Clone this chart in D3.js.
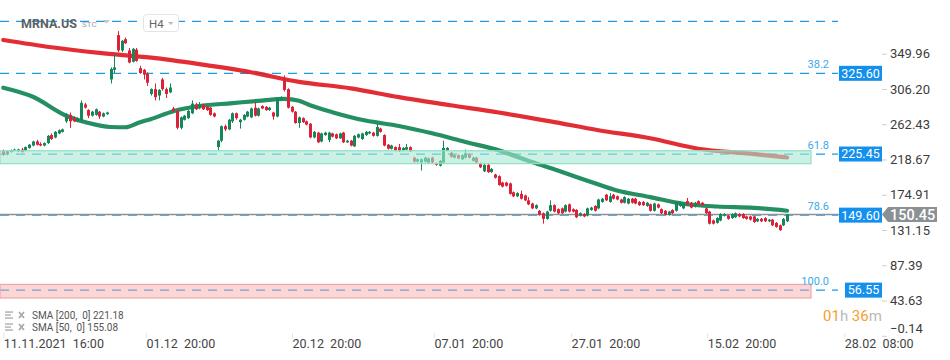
<!DOCTYPE html>
<html><head><meta charset="utf-8">
<script src="https://cdn.jsdelivr.net/npm/d3@7"></script>
<style>
body{margin:0;background:#fff;}
svg{display:block;font-family:Roboto,"Liberation Sans",Arial,sans-serif;}
</style>
</head><body>
<svg id="chart" width="950" height="360"></svg>
<script>
// ---------- DATA ----------
const symbol = "MRNA.US";
const timeframe = "H4";
// candles: [open, high, low, close]
const candles = [
[229,231,223,225],[226,230,224,229],[228,231,227,230],[230,232,229,231],[229,232,228,231],
[231,233,227,228],[230,235,229,234],[233,238,232,237],[236,242,235,241],[241,243,236,237],
[238,240,235,236],[236,240,235,239],[239,249,238,248],[249,251,243,244],[246,254,245,253],
[251,256,250,255],[253,257,252,256],[266,276,264,275],[274,277,258,266],[270,272,265,266],
[266,271,265,270],[268,292,266,289],[287,289,282,283],[280,281,270,273],[273,279,272,278],
[274,282,273,281],[278,279,269,272],[272,277,271,276],[275,278,274,277],[318,333,313,331],
[330,350,326,333],[373,378,352,354],[354,367,352,366],[368,370,362,363],[354,357,338,339],
[340,357,339,356],[355,357,340,341],[332,335,325,326],[330,331,318,324],[325,327,310,314],
[300,307,298,306],[306,313,292,296],[298,306,292,305],[318,320,304,306],[306,308,295,300],
[302,313,301,308],[282,284,278,279],[279,281,256,258],[258,272,256,271],[268,274,267,273],
[270,280,269,279],[276,292,275,288],[287,289,280,281],[282,290,281,287],[287,288,280,281],
[284,285,279,280],[283,284,273,274],[276,277,271,272],[234,243,230,242],[242,261,240,260],
[260,262,254,256],[256,269,255,268],[266,277,264,276],[276,277,268,270],[265,269,257,268],
[268,275,267,274],[272,279,271,278],[271,283,270,282],[283,290,272,273],[273,283,272,282],
[285,286,281,282],[284,285,279,280],[280,284,279,283],[277,278,268,272],[272,295,271,294],
[293,297,292,296],[320,323,303,305],[306,307,282,283],[284,285,277,278],[278,279,263,264],
[264,272,258,271],[270,271,264,265],[266,267,261,262],[263,264,245,246],[246,254,245,253],
[252,253,239,240],[241,252,240,251],[249,253,248,252],[243,253,240,252],[251,252,246,247],
[250,251,244,245],[245,252,244,251],[252,253,239,240],[240,243,239,242],[242,243,235,236],
[235,249,234,248],[246,251,245,250],[244,252,243,251],[249,254,248,253],[251,254,250,253],
[252,253,247,248],[248,263,247,259],[257,258,252,253],[249,250,235,236],[237,238,231,232],
[232,237,231,236],[234,235,229,230],[234,238,228,229],[230,234,229,233],[231,238,230,234],
[234,235,228,229],[221,222,215,216],[216,220,215,219],[215,220,205,219],[216,222,215,221],
[215,221,214,220],[221,222,214,215],[214,215,211,212],[211,218,210,217],[215,242,213,233],
[230,234,229,233],[227,228,221,222],[221,225,220,224],[224,225,219,220],[219,225,218,224],
[221,231,220,226],[225,226,220,221],[217,222,216,221],[221,222,214,215],[214,215,208,209],
[204,213,203,212],[212,213,202,203],[203,208,202,207],[200,201,195,196],[198,199,186,187],
[190,191,184,185],[190,191,185,186],[189,190,175,176],[178,179,172,173],[173,178,172,177],
[176,180,169,170],[174,175,167,168],[168,172,162,163],[164,165,157,158],[158,163,157,162],
[155,156,149,150],[152,153,139,145],[145,155,144,154],[155,168,154,162],[162,163,153,154],
[157,158,151,152],[158,159,151,152],[154,163,153,162],[163,164,153,154],[157,158,153,154],
[156,157,146,147],[149,153,148,152],[151,152,147,148],[149,159,148,158],[156,160,155,159],
[161,162,154,155],[158,170,157,169],[166,171,165,170],[175,176,167,168],[166,177,165,173],
[175,176,169,170],[173,174,168,169],[169,170,164,165],[165,173,164,172],[164,171,163,170],
[170,171,164,165],[170,171,163,164],[166,167,161,162],[166,167,161,162],[161,166,160,165],
[163,164,154,155],[155,165,154,164],[163,164,158,159],[157,158,151,152],[155,156,149,150],
[150,155,149,154],[156,157,151,152],[155,167,154,166],[161,166,160,165],[158,165,157,164],
[167,171,162,163],[165,166,158,159],[160,166,159,165],[167,168,162,163],[165,166,161,162],
[158,159,151,152],[154,155,138,139],[143,144,138,139],[140,147,139,146],[143,152,142,151],
[149,152,148,151],[149,150,144,145],[146,152,145,151],[147,153,146,152],[151,152,147,148],
[151,152,145,146],[148,149,144,145],[148,149,143,144],[148,149,140,141],[142,146,141,145],
[145,146,141,142],[146,147,141,142],[142,145,141,144],[144,145,136,137],[140,141,134,135],
[137,138,130,131],[137,146,136,145],[142,151,141,150.45]
];
// SMA readings (candle index, value)
const sma200Idx = [0,13,26,40,53,67,80,94,107,121,134,148,161,175,188,202,212];
const sma200Val = [367,358,351,345,337,327,315,307,296,286,277,266,255,245,232,226,221.18];
const sma50Idx = [0,8,17,23,29,33,37,40,46,53,62,69,76,80,83,89,98,107,116,125,134,143,150,159,166,175,184,193,203,212];
const sma50Val = [307.7,296.5,273,264,259,258.7,265,269,278.6,285,288.6,291.5,294,291.5,286,277.4,267,260.3,251.2,240.4,230,215.5,205,190.8,180.2,172,163.7,160.3,158.7,155.08];
// axes
const priceTicks = [-0.14,43.63,87.39,131.15,174.91,218.67,262.43,306.20,349.96];
const timeLabels = ["11.11.2021  16:00","01.12  20:00","20.12  20:00","07.01  20:00","27.01  20:00","15.02  20:00","28.02  08:00"];
const timeIdx = [0,38.6,78.1,116.5,153.6,190.4,227.5];
// fibonacci levels
const fibPrices = [390.2,325.60,225.45,149.60,56.55];
const fibNames = ["","38.2","61.8","78.6","100.0"];
const fibBoxed = [false,true,true,true,true];
const zoneTeal = [213.5,229.5];
const zonePink = [46.8,63.6];
const lastPrice = 150.45;
const legendTexts = ["SMA [200,  0] 221.18","SMA [50,  0] 155.08"];
const countdown = [["01","#f5a02e"],["h","#b9b9b9"],[" 36","#f5a02e"],["m","#b9b9b9"]];

// ---------- DRAW ----------
const svg = d3.select("#chart");
const x = d3.scaleLinear().domain([0, candles.length-1]).range([3.3, 787]);
const y = d3.scaleLinear().domain([-0.14, 349.96]).range([335.8, 53.7]);
const plotRight = 811;
const GREEN = "#15875a", RED = "#dc2238", BLUE = "#1a9be4";

// fib dashed lines
svg.append("g").selectAll("line").data(fibPrices).join("line")
  .attr("x1",0).attr("x2",838).attr("y1",d=>y(d)).attr("y2",d=>y(d))
  .attr("stroke",BLUE).attr("stroke-width",1.2).attr("stroke-dasharray","9,7");

// current price line
svg.append("line").attr("x1",0).attr("x2",882).attr("y1",y(lastPrice)).attr("y2",y(lastPrice))
  .attr("stroke","#8d9296").attr("stroke-width",1.5);

// SMA lines
const line = d3.line().x(d=>x(d[0])).y(d=>y(d[1])).curve(d3.curveMonotoneX);
svg.append("path").datum(sma200Idx.map((d,i)=>[d,sma200Val[i]]))
  .attr("d",line).attr("fill","none").attr("stroke","#e0161e").attr("stroke-width",4.2)
  .attr("stroke-opacity",0.9).attr("stroke-linecap","round");
svg.append("path").datum(sma50Idx.map((d,i)=>[d,sma50Val[i]]))
  .attr("d",line).attr("fill","none").attr("stroke","#118554").attr("stroke-width",4.2)
  .attr("stroke-opacity",0.92).attr("stroke-linecap","round");

// candles
const cg = svg.append("g");
candles.forEach((c,i)=>{
  const [o,h,l,cl] = c;
  const col = cl>=o ? GREEN : RED;
  const cx = Math.round(x(i))+0.5;
  cg.append("line").attr("x1",cx).attr("x2",cx).attr("y1",y(h)).attr("y2",y(l))
    .attr("stroke",col).attr("stroke-width",1);
  const top = y(Math.max(o,cl)), bot = y(Math.min(o,cl));
  cg.append("rect").attr("x",cx-1.5).attr("width",3)
    .attr("y",top).attr("height",Math.max(1,bot-top)).attr("fill",col);
});

// zones (semi transparent, on top)
function zone(z, fill, stroke, op){
  svg.append("rect").attr("x",0).attr("width",plotRight)
    .attr("y",y(z[1])).attr("height",y(z[0])-y(z[1]))
    .attr("fill",fill).attr("fill-opacity",op).attr("stroke",stroke).attr("stroke-width",1.2);
}
zone(zoneTeal,"#a6e8d1","#8fdfc2",0.6);
zone(zonePink,"#f5a3a3","#f2a6a6",0.45);

// fib level names
svg.append("g").selectAll("text").data(fibPrices.filter((d,i)=>fibNames[i])).join("text")
  .attr("x",829).attr("y",d=>y(d)-5).attr("text-anchor","end")
  .attr("font-size",11).attr("fill","#3aaae8")
  .text((d,i)=>fibNames.filter(n=>n)[i]);

// price axis
const yAxis = d3.axisRight(y).tickValues(priceTicks).tickSize(5).tickPadding(3)
  .tickFormat(d3.format(".2f"));
const ya = svg.append("g").attr("transform","translate(882,0)").call(yAxis);
ya.select(".domain").remove();
ya.selectAll(".tick line").attr("stroke","#d0d0d0");
ya.selectAll(".tick text").attr("font-size",13).attr("fill","#3c3c3c")
  .attr("font-family","Roboto,Arial,sans-serif")
  .attr("y",d=>d<1? -7.3:0);

// fib price boxes
fibPrices.forEach((p,i)=>{
  if(!fibBoxed[i]) return;
  const t = d3.format(".2f")(p);
  const w = t.length>5 ? 43 : 37;
  svg.append("rect").attr("x",882-w).attr("y",y(p)-7.5).attr("width",w).attr("height",15).attr("fill","#1390ee");
  svg.append("text").attr("x",882-w/2).attr("y",y(p)).attr("dy","0.35em").attr("text-anchor","middle")
    .attr("font-size",12.5).attr("fill","#fff").text(t);
});

// current price box
const yp = y(lastPrice);
svg.append("path").attr("d",`M882,${yp} L888,${yp-7.5} L937,${yp-7.5} L937,${yp+7.5} L888,${yp+7.5} Z`)
  .attr("fill","#8a9094");
svg.append("text").attr("x",890).attr("y",yp).attr("dy","0.36em").attr("font-size",14.5)
  .attr("fill","#fff").attr("font-weight",500).text(d3.format(".2f")(lastPrice));

// time axis
const xAxis = d3.axisBottom(x).tickValues(timeIdx).tickSize(5).tickFormat((d,i)=>timeLabels[i]);
const xa = svg.append("g").attr("transform","translate(0,333)").call(xAxis);
xa.select(".domain").remove();
xa.selectAll(".tick line").attr("stroke","#e6e6e6");
xa.selectAll(".tick text").attr("text-anchor","start").attr("x",0).attr("y",6)
  .attr("font-size",12.5).attr("fill","#444").attr("font-family","Roboto,Arial,sans-serif")
  .style("white-space","pre");

// countdown
const ct = svg.append("text").attr("x",823).attr("y",321).attr("font-size",15).style("white-space","pre");
countdown.forEach(d=>ct.append("tspan").attr("fill",d[1]).text(d[0]));

// legend
legendTexts.forEach((t,i)=>{
  const ly = 315 + i*12;
  const g = svg.append("g").attr("transform",`translate(5,${ly})`);
  [-3,0,3].forEach((dy,k)=>g.append("rect").attr("x",0).attr("y",dy-0.6).attr("width",k==1?6:8).attr("height",1.3).attr("fill","#a8a8a8"));
  g.append("path").attr("d","M14,-3 L19,3 M19,-3 L14,3").attr("stroke","#a8a8a8").attr("stroke-width",1.8);
  g.append("text").attr("x",27).attr("y",0).attr("dy","0.35em").attr("font-size",10)
    .attr("fill","#555").style("white-space","pre").text(t);
});

// header
svg.append("text").attr("x",21).attr("y",23.5).attr("dy","0.35em").attr("font-size",12.5)
  .attr("font-weight","bold").attr("fill","#5b6168").text(symbol);
svg.append("text").attr("x",82).attr("y",24.5).attr("dy","0.35em").attr("font-size",8)
  .attr("fill","#9aa3ab").text("STC");
svg.append("path").attr("d","M103,20 L110,20 L106.5,23.5 Z").attr("fill","#c4c8cc");
svg.append("rect").attr("x",143.5).attr("y",14.5).attr("width",35).attr("height",17).attr("rx",3)
  .attr("fill","#fff").attr("stroke","#e3e3e3");
svg.append("text").attr("x",149).attr("y",23.5).attr("dy","0.35em").attr("font-size",11.5)
  .attr("fill","#666").text(timeframe);
svg.append("path").attr("d","M168,22 L173.5,22 L170.75,25 Z").attr("fill","#b8bcc0");
</script>
</body></html>
